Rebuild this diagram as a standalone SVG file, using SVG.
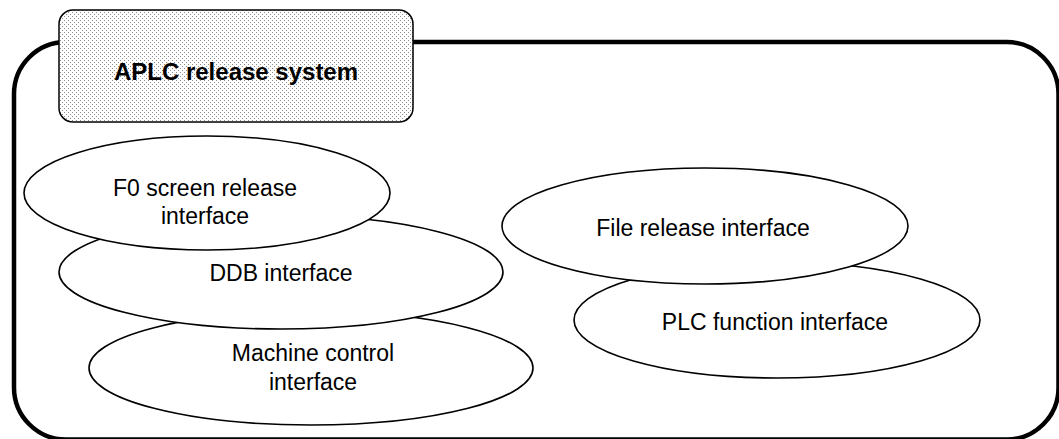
<svg xmlns="http://www.w3.org/2000/svg" width="1059" height="439" viewBox="0 0 1059 439">
  <defs>
    <pattern id="dots" width="4" height="4" patternUnits="userSpaceOnUse">
      <rect width="4" height="4" fill="#ffffff"/>
      <rect x="0" y="0" width="1" height="1" fill="#8c8c8c"/>
      <rect x="2" y="2" width="1" height="1" fill="#8c8c8c"/>
    </pattern>
  </defs>
  <style>
    .frame { fill: #ffffff; stroke: #000000; stroke-width: 4.5; }
    .header { fill: url(#dots); stroke: #000000; stroke-width: 1.5; }
    .title { font-family: "Liberation Sans", Arial, sans-serif; font-weight: bold; font-size: 24px; fill: #000000; text-anchor: middle; }
    .iface ellipse { fill: #ffffff; stroke: #000000; stroke-width: 1.6; }
    .iface text { font-family: "Liberation Sans", Arial, sans-serif; font-size: 23px; fill: #000000; text-anchor: middle; }
  </style>

  <!-- system boundary -->
  <g id="system-frame">
    <rect class="frame" x="14" y="42" width="1044.5" height="397.5" rx="52" ry="52"/>
  </g>

  <!-- system name tab -->
  <g id="system-title">
    <rect class="header" x="59" y="10" width="354" height="112" rx="14" ry="14"/>
    <text class="title" x="236" y="80">APLC release system</text>
  </g>

  <!-- interfaces, back to front -->
  <g id="machine-control-interface" class="iface">
    <ellipse cx="311" cy="368" rx="222" ry="57"/>
    <text x="313" y="361">Machine control</text>
    <text x="313" y="390">interface</text>
  </g>
  <g id="ddb-interface" class="iface">
    <ellipse cx="281" cy="272" rx="222" ry="57"/>
    <text x="281" y="281">DDB interface</text>
  </g>
  <g id="f0-screen-release-interface" class="iface">
    <ellipse cx="207" cy="193" rx="183" ry="57"/>
    <text x="205" y="196">F0 screen release</text>
    <text x="205" y="224">interface</text>
  </g>
  <g id="plc-function-interface" class="iface">
    <ellipse cx="777" cy="320" rx="203" ry="58"/>
    <text x="775" y="330">PLC function interface</text>
  </g>
  <g id="file-release-interface" class="iface">
    <ellipse cx="705" cy="226" rx="203" ry="58"/>
    <text x="703" y="236">File release interface</text>
  </g>

  <g id="connectors"/>
</svg>
